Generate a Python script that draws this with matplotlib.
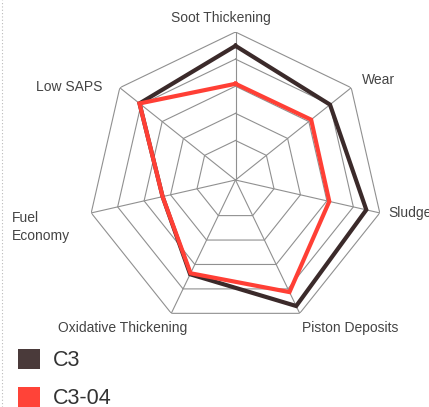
import numpy as np
import matplotlib
matplotlib.use("Agg")
import matplotlib.pyplot as plt
from matplotlib.patches import Patch
from matplotlib.lines import Line2D

plt.rcParams['font.family'] = ['Liberation Sans', 'DejaVu Sans']

categories = ["Soot Thickening", "Wear", "Sludge", "Piston Deposits",
              "Oxidative Thickening", "Fuel\nEconomy", "Low SAPS"]
c3 = [4.49, 4.0, 4.49, 4.70, 3.40, 2.30, 4.07]
c3_04 = [3.09, 3.11, 3.09, 4.13, 3.36, 2.30, 4.07]
series_names = ["C3", "C3-04"]
rings = [1, 2, 3, 4, 5]

W, H = 429, 407
fig = plt.figure(figsize=(W / 100, H / 100), dpi=100)

cx, cy, R = 235.5, 180, 148
ax = fig.add_axes([(cx - R) / W, (H - cy - R) / H, 2 * R / W, 2 * R / H],
                  projection='polar')
ax.set_theta_zero_location('N')
ax.set_theta_direction(-1)
ax.set_rlim(-0.457, 5)
ax.grid(False)
ax.set_xticks([])
ax.set_yticks([])
ax.spines['polar'].set_visible(False)
ax.patch.set_alpha(0)

n = len(categories)
ang = np.arange(n) * 2 * np.pi / n
closed = np.append(ang, ang[0])

grid_col = '#909090'
for r in rings:
    ax.plot(closed, [r] * (n + 1), color=grid_col, lw=0.8, zorder=1)
for a in ang:
    ax.plot([a, a], [-0.457, 5], color=grid_col, lw=0.8, zorder=1)

dark = '#3b2a2a'
red = '#ff3f35'
ax.plot(closed, c3 + [c3[0]], color=dark, lw=3, zorder=3, solid_joinstyle='miter')
ax.plot(closed, c3_04 + [c3_04[0]], color=red, lw=3, zorder=4, solid_joinstyle='miter')

# category labels, placed in pixel coordinates (top-left origin)
lab_pos = [(221, 18, 'center'), (362, 80, 'left'), (388, 213, 'left'),
           (302, 328, 'left'), (58, 328, 'left'), (12, 227, 'left'),
           (36, 87, 'left')]
for name, (x, y, ha) in zip(categories, lab_pos):
    fig.text(x / W, 1 - y / H, name, ha=ha, va='center', fontsize=10,
             color='#444444', linespacing=1.35)

handles = [Patch(facecolor='#4a3a3a', edgecolor='none'),
           Patch(facecolor='#ff4338', edgecolor='none')]
fig.legend(handles, series_names, loc='upper left',
           bbox_to_anchor=(18 / W, 1 - 349 / H), frameon=False,
           fontsize=15.5, handlelength=1.02, handleheight=1.02,
           handletextpad=0.6, borderpad=0, borderaxespad=0,
           labelspacing=0.75, labelcolor='#333333')

fig.add_artist(Line2D([1.5 / W, 1.5 / W], [0, 1], color='#bbbbbb', lw=0.8,
                      linestyle=(0, (1, 2)), transform=fig.transFigure))

fig.savefig('out.png', dpi=100)
